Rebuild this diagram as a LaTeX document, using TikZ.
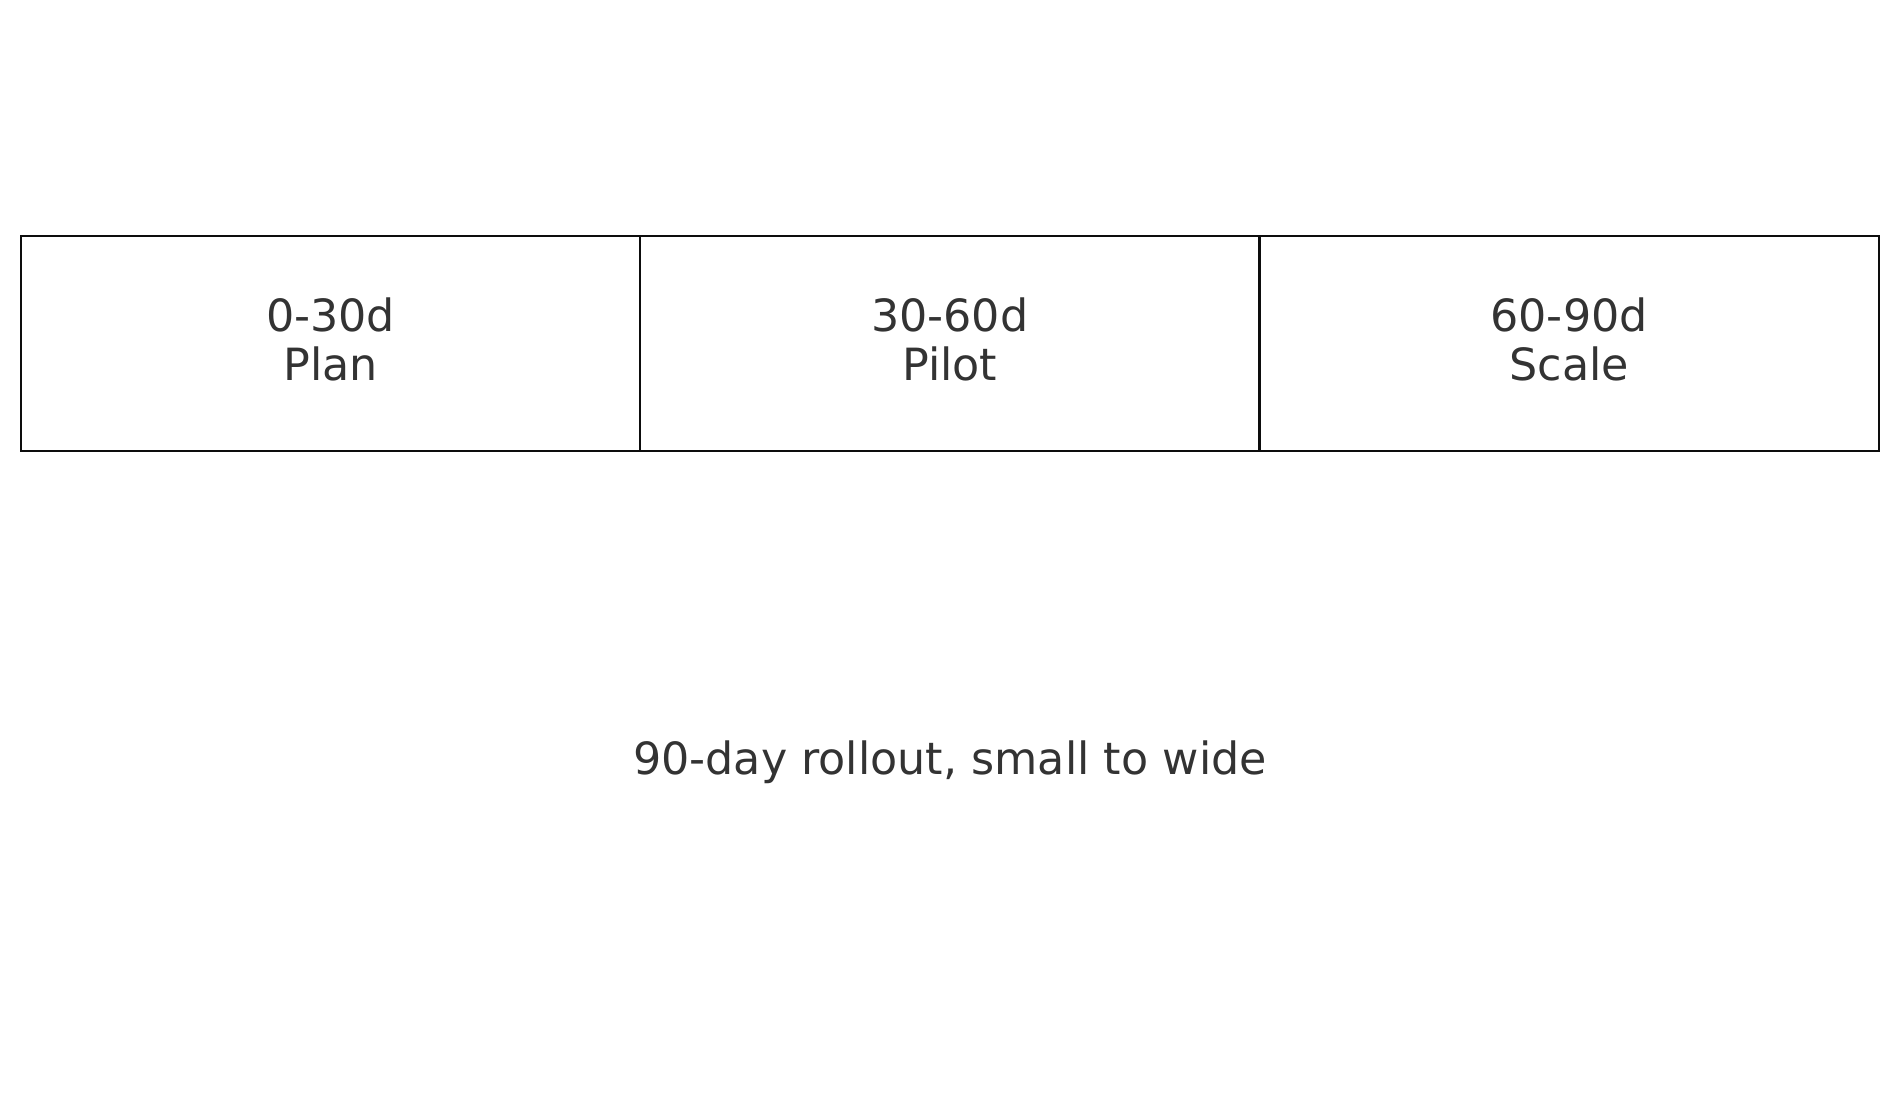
\documentclass[tikz,border=0pt]{standalone}
\usepackage{fontspec}
\setmainfont{DejaVu Sans}
\usetikzlibrary{positioning}

\begin{document}
\begin{tikzpicture}[
  x=0.5pt, y=0.5pt,
  cell/.style={draw=black!95, line width=1.2pt, minimum width=309.65pt,
    minimum height=107.5pt, inner sep=0pt, outer sep=0pt},
  phase/.style={text=black!80, font=\fontsize{22.2}{24.5}\selectfont,
    align=center, inner sep=0pt},
  note/.style={text=black!80, font=\fontsize{22.2}{27}\selectfont, inner sep=0pt}
]
  \useasboundingbox (0,0) rectangle (1900,1118);

  % the three time blocks
  \node[cell] (span1) at (330.5,774.5) {};
  \node[cell, right=0pt of span1] (span2) {};
  \node[cell, right=0pt of span2] (span3) {};

  % block labels
  \node[phase] (plan)  at ([yshift=2pt]span1.center) {0-30d\\Plan};
  \node[phase] (pilot) at ([yshift=2pt]span2.center) {30-60d\\Pilot};
  \node[phase] (scale) at ([yshift=2pt]span3.center) {60-90d\\Scale};

  % caption
  \node[note, anchor=base] (caption) at (950,343) {90-day rollout, small to wide};
\end{tikzpicture}
\end{document}
